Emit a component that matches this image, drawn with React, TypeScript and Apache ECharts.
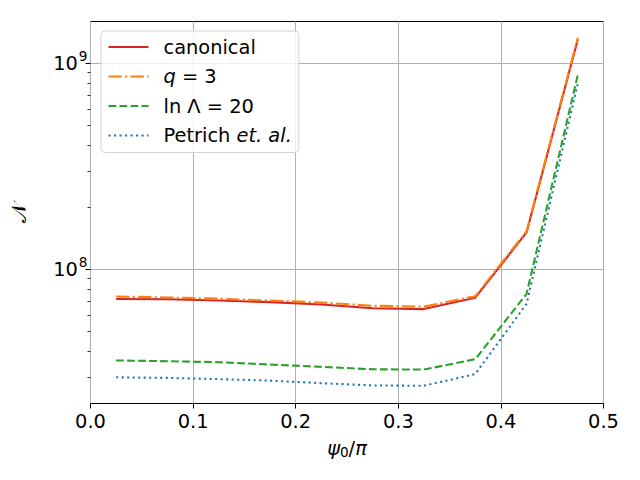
import React, { useEffect, useRef } from "react";
import * as echarts from "echarts";

const xValues = [0.025, 0.075, 0.125, 0.175, 0.225, 0.275, 0.325, 0.375, 0.425, 0.475];
const canonical = [7.18e7, 7.15e7, 7.05e7, 6.93e7, 6.75e7, 6.47e7, 6.41e7, 7.28e7, 1.51e8, 1.31e9];
const qThree = [7.38e7, 7.3e7, 7.2e7, 7.05e7, 6.9e7, 6.65e7, 6.59e7, 7.4e7, 1.53e8, 1.33e9];
const lnLambda20 = [3.61e7, 3.58e7, 3.54e7, 3.45e7, 3.36e7, 3.27e7, 3.26e7, 3.66e7, 7.6e7, 8.8e8];
const petrich = [2.99e7, 2.97e7, 2.93e7, 2.88e7, 2.8e7, 2.73e7, 2.72e7, 3.1e7, 6.8e7, 8.0e8];
const seriesNames = ["canonical", "q = 3", "ln Λ = 20", "Petrich et.al."];
const majorYTicks = [1e8, 1e9];
const minorYTicks = [3e7, 4e7, 5e7, 6e7, 7e7, 8e7, 9e7, 2e8, 3e8, 4e8, 5e8, 6e8, 7e8, 8e8, 9e8];
const yMin = 2.231e7;
const yMax = 1.596e9;

const FONT = "DejaVu Sans";
const FS = 19.4;
const LFS = 19.4;
const SFS = 13.6;

export default function App() {
  const ref = useRef<HTMLDivElement>(null);
  useEffect(() => {
    if (!ref.current) return;
    const chart = echarts.init(ref.current, undefined, { renderer: "svg" });
    const mk = (vals: number[]) => xValues.map((x, i) => [x, vals[i]]);
    const lw = 2.08;
    const legendRich = {
      sp: { width: 10, fontSize: LFS, fontFamily: FONT },
      n: { fontSize: LFS, fontFamily: FONT, color: "#000" },
      i: { fontSize: LFS, fontFamily: FONT, fontStyle: "italic", color: "#000" },
    };
    const legendLabel: Record<string, string> = {
      canonical: "{sp|}{n|canonical}",
      "q = 3": "{sp|}{i|q}{n| = 3}",
      "ln Λ = 20": "{sp|}{n|ln Λ = 20}",
      "Petrich et.al.": "{sp|}{n|Petrich }{i|et. al.}",
    };
    chart.setOption({
      animation: false,
      backgroundColor: "#fff",
      grid: {
        left: 90.5,
        width: 513,
        top: 21.5,
        height: 382,
        show: true,
        borderColor: "#000",
        borderWidth: 1,
        backgroundColor: "transparent",
      },
      legend: {
        orient: "vertical",
        left: 101,
        top: 31,
        padding: [5, 7, 6, 6.5],
        itemWidth: 40,
        itemHeight: 20,
        itemGap: 7.5,
        backgroundColor: "rgba(255,255,255,0.8)",
        borderColor: "#d3d3d3",
        borderWidth: 1,
        borderRadius: 4,
        data: seriesNames,
        itemStyle: { opacity: 0, borderWidth: 0 },
        formatter: (name: string) => legendLabel[name] || name,
        textStyle: { fontSize: LFS, fontFamily: FONT, color: "#000", lineHeight: 22, rich: legendRich },
      },
      xAxis: {
        type: "value",
        min: 0,
        max: 0.5,
        interval: 0.1,
        name: "{i|ψ}{s|0}{n|/}{i|π}",
        nameLocation: "middle",
        nameGap: 34,
        nameTextStyle: {
          fontSize: FS,
          fontFamily: FONT,
          rich: {
            i: { fontSize: FS, fontFamily: FONT, fontStyle: "italic", color: "#000" },
            n: { fontSize: FS, fontFamily: FONT, color: "#000" },
            s: { fontSize: SFS, fontFamily: FONT, color: "#000", padding: [7, 0, 0, 0] },
          },
        },
        axisLine: { show: false },
        axisTick: { show: true, inside: false, length: 5, lineStyle: { color: "#000", width: 1 } },
        axisLabel: {
          fontSize: FS,
          fontFamily: FONT,
          color: "#000",
          margin: 8,
          formatter: (v: number) => v.toFixed(1),
        },
        splitLine: { show: true, lineStyle: { color: "#b0b0b0", width: 1 } },
      },
      yAxis: [
        {
          type: "log",
          min: yMin,
          max: yMax,
          name: "𝒩",
          nameLocation: "middle",
          nameGap: 61,
          nameRotate: 90,
          nameTextStyle: { fontSize: 21, fontFamily: FONT, color: "#000" },
          axisLine: { show: false },
          axisTick: { show: true, length: 5, customValues: majorYTicks, lineStyle: { color: "#000", width: 1 } },
          axisLabel: {
            customValues: majorYTicks,
            margin: 3,
            fontSize: FS,
            fontFamily: FONT,
            color: "#000",
            formatter: (v: number) => {
              const e = Math.round(Math.log10(v));
              return `10{sup|${e}}`;
            },
            rich: {
              sup: { fontSize: SFS, fontFamily: FONT, color: "#000", padding: [0, 0, 15, 1] },
            },
          },
          splitLine: { show: true, lineStyle: { color: "#b0b0b0", width: 1 } },
        },
        {
          type: "log",
          min: yMin,
          max: yMax,
          position: "left",
          axisLine: { show: false },
          axisLabel: { show: false },
          splitLine: { show: false },
          axisTick: { show: true, length: 3, customValues: minorYTicks, lineStyle: { color: "#000", width: 0.8 } },
        },
      ],
      series: [
        {
          name: seriesNames[0],
          type: "line",
          data: mk(canonical),
          symbol: "none",
          lineStyle: { color: "#d62728", width: lw, type: "solid" },
          itemStyle: { color: "#d62728" },
        },
        {
          name: seriesNames[1],
          type: "line",
          data: mk(qThree),
          symbol: "none",
          lineStyle: { color: "#ff7f0e", width: lw, type: [13.3, 3.3, 2.1, 3.3] },
          itemStyle: { color: "#ff7f0e" },
        },
        {
          name: seriesNames[2],
          type: "line",
          data: mk(lnLambda20),
          symbol: "none",
          lineStyle: { color: "#2ca02c", width: lw, type: [7.7, 3.3] },
          itemStyle: { color: "#2ca02c" },
        },
        {
          name: seriesNames[3],
          type: "line",
          data: mk(petrich),
          symbol: "none",
          lineStyle: { color: "#1f77b4", width: lw, type: [2.1, 3.4] },
          itemStyle: { color: "#1f77b4" },
        },
      ],
    });
    return () => chart.dispose();
  }, []);
  return <div ref={ref} style={{ position: "fixed", left: 0, top: 0, width: 640, height: 480 }} />;
}
